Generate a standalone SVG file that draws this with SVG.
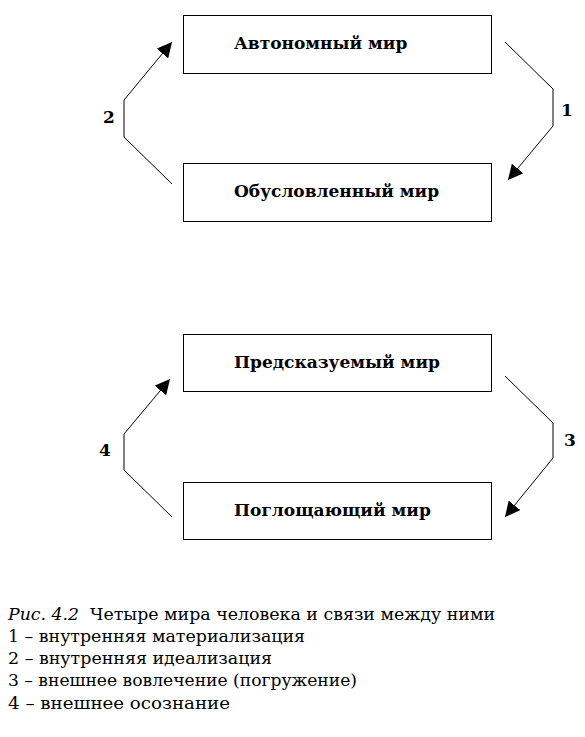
<svg xmlns="http://www.w3.org/2000/svg" width="585" height="737" viewBox="0 0 585 737">
<style>
.box{fill:#fff;stroke:#000;stroke-width:1}
.lbl{font-family:"DejaVu Serif","Liberation Serif",serif;font-weight:bold;font-size:17px;fill:#000}
.num{font-family:"DejaVu Serif","Liberation Serif",serif;font-weight:bold;font-size:17px;fill:#000}
.cap{font-family:"DejaVu Serif","Liberation Serif",serif;font-size:16px;fill:#000}
.con{fill:none;stroke:#000;stroke-width:1}
</style>
<defs>
<marker id="ah" viewBox="0 0 10 10" refX="10" refY="5" markerWidth="15" markerHeight="15" markerUnits="userSpaceOnUse" orient="auto">
<path d="M0,0 L10,5 L0,10 z" fill="#000"/>
</marker>
</defs>
<rect width="585" height="737" fill="#fff"/>
<g id="n-avt"><rect class="box" x="183.5" y="15.5" width="308" height="58"/><text class="lbl" x="234" y="49">Автономный мир</text></g>
<g id="n-obu"><rect class="box" x="183.5" y="163.5" width="308" height="58"/><text class="lbl" x="234" y="197">Обусловленный мир</text></g>
<g id="n-pre"><rect class="box" x="183.5" y="334.5" width="308" height="57"/><text class="lbl" x="234" y="368">Предсказуемый мир</text></g>
<g id="n-pog"><rect class="box" x="183.5" y="482.5" width="308" height="57"/><text class="lbl" x="234" y="516">Поглощающий мир</text></g>
<g id="connectors">
<polyline class="con" points="505,42 553,89 553,126 508,180" marker-end="url(#ah)"/>
<polyline class="con" points="172,184 124,137 124,100 172,42" marker-end="url(#ah)"/>
<polyline class="con" points="505,376 553,423 553,458 505,517" marker-end="url(#ah)"/>
<polyline class="con" points="172,517 124,470 124,434 170,379" marker-end="url(#ah)"/>
<text class="num" x="567" y="116" text-anchor="middle">1</text>
<text class="num" x="109" y="123" text-anchor="middle">2</text>
<text class="num" x="570" y="446" text-anchor="middle">3</text>
<text class="num" x="105" y="456" text-anchor="middle">4</text>
</g>
<g id="caption">
<text class="cap" x="8" y="620" font-style="italic" textLength="71" lengthAdjust="spacingAndGlyphs">Рис. 4.2</text>
<text class="cap" x="90" y="620" textLength="405" lengthAdjust="spacingAndGlyphs">Четыре мира человека и связи между ними</text>
<text class="cap" x="8" y="642" textLength="297" lengthAdjust="spacingAndGlyphs">1 – внутренняя материализация</text>
<text class="cap" x="8" y="664" textLength="264" lengthAdjust="spacingAndGlyphs">2 – внутренняя идеализация</text>
<text class="cap" x="8" y="686" textLength="349" lengthAdjust="spacingAndGlyphs">3 – внешнее вовлечение (погружение)</text>
<text class="cap" x="8" y="709" textLength="222" lengthAdjust="spacingAndGlyphs">4 – внешнее осознание</text>
</g>
</svg>
